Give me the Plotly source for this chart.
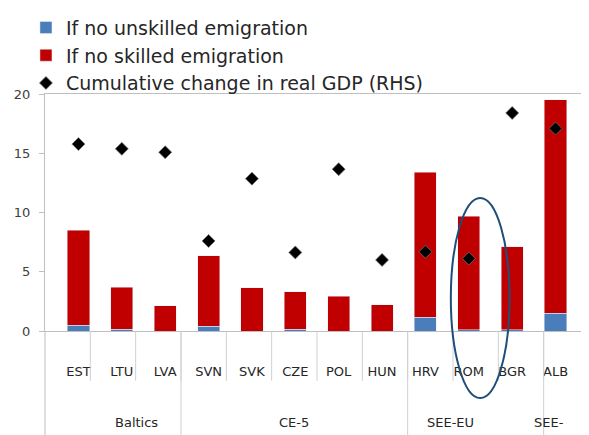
import plotly.graph_objects as go

countries = ["EST", "LTU", "LVA", "SVN", "SVK", "CZE", "POL", "HUN", "HRV", "ROM", "BGR", "ALB"]
group_names = ["Baltics", "CE-5", "SEE-EU", "SEE-<br>XEU"]
group_sizes = [3, 5, 3, 1]

# bar heights
no_unskilled = [0.5, 0.15, 0.0, 0.4, 0.0, 0.15, 0.0, 0.0, 1.15, 0.1, 0.1, 1.5]
no_skilled_total = [8.5, 3.7, 2.15, 6.35, 3.65, 3.3, 2.93, 2.22, 13.4, 9.7, 7.1, 19.5]
no_skilled = [round(t - u, 2) for t, u in zip(no_skilled_total, no_unskilled)]

# right-hand axis (0-35)
gdp_change = [27.6, 26.9, 26.4, 13.3, 22.5, 11.6, 23.9, 10.5, 11.7, 10.7, 32.2, 29.9]

BLUE = "#4A7EBB"
RED = "#C00000"
AXIS = "#BFBFBF"
SEP = "#D0D0D0"
FONT = "DejaVu Sans"

fig = go.Figure()
fig.add_trace(go.Bar(x=countries, y=no_unskilled, name="If no unskilled emigration",
                     marker={"color": BLUE}))
fig.add_trace(go.Bar(x=countries, y=no_skilled, name="If no skilled emigration",
                     marker={"color": RED}))
fig.add_trace(go.Scatter(x=countries, y=gdp_change, name="Cumulative change in real GDP (RHS)",
                         mode="markers", yaxis="y2",
                         marker={"symbol": "diamond", "size": 10, "color": "black",
                                 "line": {"color": "rgba(120,120,120,0.7)", "width": 1}}))

n = len(countries)

# short separators between every category, below the axis
for i in range(1, n):
    fig.add_shape(type="line", xref="x domain", yref="paper",
                  x0=i / n, x1=i / n, y0=0, y1=-0.21,
                  line={"color": SEP, "width": 1})

# group dividers and group labels
start = 0
for name, size in zip(group_names, group_sizes):
    fig.add_shape(type="line", xref="x domain", yref="paper",
                  x0=start / n, x1=start / n, y0=0, y1=-0.5,
                  line={"color": AXIS if start == 0 else SEP, "width": 1})
    fig.add_annotation(text=name, xref="x domain", yref="paper",
                       x=(start + size / 2) / n, y=-0.345, yanchor="top",
                       showarrow=False, align="center",
                       font={"size": 13, "color": "#262626"})
    start += size

# ellipse highlighting ROM
rom = countries.index("ROM")
cx = (rom + 0.6) / n
fig.add_shape(type="circle", xref="x domain", yref="paper",
              x0=cx - 0.054, x1=cx + 0.054, y0=-0.283, y1=0.561,
              line={"color": "#1F4E79", "width": 2})

fig.update_layout(
    width=589, height=435,
    barmode="stack", bargap=0.49,
    plot_bgcolor="white", paper_bgcolor="white",
    font={"family": FONT, "color": "#262626"},
    margin={"l": 37, "r": 8, "t": 86, "b": 112, "autoexpand": False},
    showlegend=True,
    legend={"x": -0.035, "y": 1.36, "xanchor": "left", "yanchor": "top",
            "traceorder": "normal", "font": {"size": 19, "color": "#262626"},
            "itemwidth": 30, "tracegroupgap": 0, "bgcolor": "rgba(0,0,0,0)"},
)
fig.update_xaxes(showline=True, linecolor=AXIS, mirror=True, ticks="",
                 ticklabelstandoff=28, automargin=False,
                 tickfont={"size": 13, "color": "#262626"}, showgrid=False)
fig.update_yaxes(range=[0, 20], dtick=5, showgrid=False, zeroline=False,
                 showline=True, linecolor=AXIS, ticks="outside", ticklen=5,
                 tickcolor=AXIS, automargin=False, ticklabelstandoff=6,
                 tickfont={"size": 13, "color": "#404040"})
fig.update_layout(yaxis2={"overlaying": "y", "side": "right", "range": [0, 35],
                          "dtick": 5, "showgrid": False, "zeroline": False,
                          "showticklabels": False, "ticks": "inside", "ticklen": 4,
                          "tickcolor": AXIS, "showline": True, "linecolor": AXIS,
                          "automargin": False})

fig.write_html("out.html")
